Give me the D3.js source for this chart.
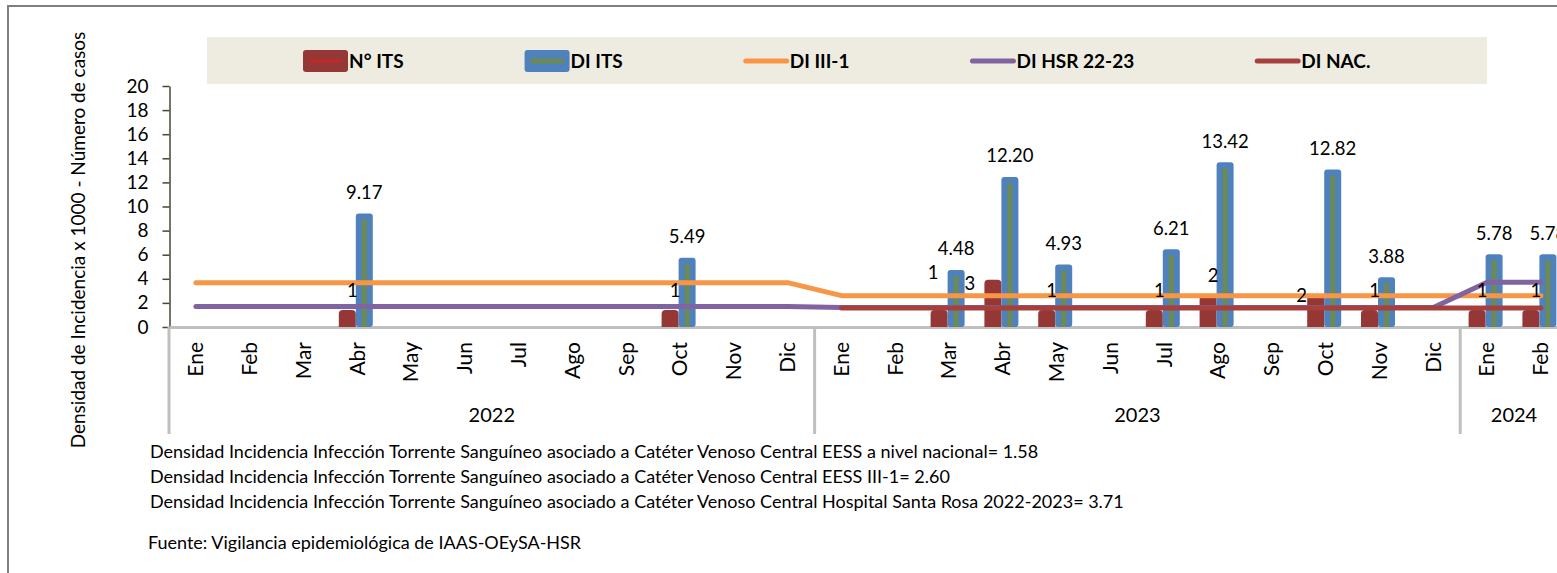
<!DOCTYPE html>
<html>
<head>
<meta charset="utf-8">
<script src="https://cdn.jsdelivr.net/npm/d3@7"></script>
<style>
  body { margin: 0; background: #fff; }
  svg { display: block; font-family: Lato, "Open Sans", sans-serif; }
</style>
</head>
<body>
<div id="container"></div>
<script>
/* DATA */
const months = ["Ene","Feb","Mar","Abr","May","Jun","Jul","Ago","Sep","Oct","Nov","Dic"];
const years = ["2022","2023","2024"];
const monthsPerYear = [12, 12, 2];

// N° ITS (numero de casos)
const casesITS = [0,0,0,1,0,0,0,0,0,1,0,0,
                  0,0,1,3,1,0,1,2,0,2,1,0,
                  1,1];
// DI ITS
const diITS = [0,0,0,9.17,0,0,0,0,0,5.49,0,0,
               0,0,4.48,12.20,4.93,0,6.21,13.42,0,12.82,3.88,0,
               5.78,5.78];
// DI III-1
const diIII1 = [3.68,3.68,3.68,3.68,3.68,3.68,3.68,3.68,3.68,3.68,3.68,3.68,
                2.60,2.60,2.60,2.60,2.60,2.60,2.60,2.60,2.60,2.60,2.60,2.60,
                2.60,2.60];
// DI HSR 22-23
const diHSR = [1.71,1.71,1.71,1.71,1.71,1.71,1.71,1.71,1.71,1.71,1.71,1.71,
               1.62,1.62,1.62,1.62,1.62,1.62,1.62,1.62,1.62,1.62,1.62,1.62,
               3.71,3.71];
// DI NAC.
const diNAC = [null,null,null,null,null,null,null,null,null,null,null,null,
               1.58,1.58,1.58,1.58,1.58,1.58,1.58,1.58,1.58,1.58,1.58,1.58,
               1.58,1.58];

const yTicks = [0,2,4,6,8,10,12,14,16,18,20];

const notes = [
  "Densidad Incidencia Infección Torrente Sanguíneo asociado a Catéter Venoso Central EESS a nivel nacional= 1.58",
  "Densidad Incidencia Infección Torrente Sanguíneo asociado a Catéter Venoso Central EESS III-1= 2.60",
  "Densidad Incidencia Infección Torrente Sanguíneo asociado a Catéter Venoso Central Hospital Santa Rosa 2022-2023= 3.71"
];
const source = "Fuente: Vigilancia epidemiológica de IAAS-OEySA-HSR";

/* CONSTANTS */
const width = 1557, height = 573;
const left = 169, top0 = 86, bottom = 327;

// category keys like "2022-Ene"
const keys = [];
years.forEach((yr, i) => months.slice(0, monthsPerYear[i]).forEach(m => keys.push(yr + "-" + m)));

const svg = d3.select("#container").append("svg")
  .attr("width", width)
  .attr("height", height);

// outer frame
svg.append("rect")
  .attr("x", 8).attr("y", 6)
  .attr("width", 1700).attr("height", 700)
  .attr("fill", "#fff")
  .attr("stroke", "#7f7f7f")
  .attr("stroke-width", 2);

/* SCALES */
const x = d3.scaleBand().domain(keys).range([left, left + 26 * 53.8]);
const y = d3.scaleLinear().domain([0, 20]).range([bottom, top0]);
const y2 = d3.scaleLinear().domain([0, 16]).range([bottom, top0]); // hidden secondary axis for cases
const barW = 17;
const cx = k => x(k) + x.bandwidth() / 2;

/* LEGEND */
svg.append("rect")
  .attr("x", 207).attr("y", 37)
  .attr("width", 1280).attr("height", 47)
  .attr("fill", "#eeece1");

const legendItems = [
  {name: "N° ITS", type: "barN"},
  {name: "DI ITS", type: "barDI"},
  {name: "DI III-1", type: "line", color: "#f79646"},
  {name: "DI HSR 22-23", type: "line", color: "#8064a2"},
  {name: "DI NAC.", type: "line", color: "#a5403d"}
];
let lx = 303;
const lg = svg.append("g");
legendItems.forEach(it => {
  const g = lg.append("g");
  if (it.type === "barN") {
    g.append("rect").attr("x", lx).attr("y", 50).attr("width", 45).attr("height", 22).attr("rx", 3).attr("fill", "#953735");
    g.append("line").attr("x1", lx + 7).attr("x2", lx + 38).attr("y1", 61).attr("y2", 61)
      .attr("stroke", "#c0282a").attr("stroke-width", 3);
  } else if (it.type === "barDI") {
    g.append("rect").attr("x", lx).attr("y", 50).attr("width", 45).attr("height", 22).attr("rx", 3).attr("fill", "#4f81bd");
    g.append("line").attr("x1", lx + 6).attr("x2", lx + 39).attr("y1", 61).attr("y2", 61)
      .attr("stroke", "#6b8a55").attr("stroke-width", 5);
  } else {
    g.append("line").attr("x1", lx + 2).attr("x2", lx + 43).attr("y1", 61).attr("y2", 61)
      .attr("stroke", it.color).attr("stroke-width", 5).attr("stroke-linecap", "round");
  }
  const t = g.append("text").attr("x", lx + 46).attr("y", 61).attr("dy", "0.35em")
    .attr("font-size", 19).attr("font-weight", "bold").text(it.name);
  lx += 46 + t.node().getComputedTextLength() + 121;
});

/* AXES */
const yAxis = svg.append("g")
  .attr("transform", `translate(${left + 0.5},0)`)
  .call(d3.axisLeft(y).tickValues(yTicks).tickSize(7).tickSizeOuter(0).tickPadding(14));
yAxis.select(".domain").attr("stroke", "#4a4530").attr("stroke-width", 1.5);
yAxis.selectAll(".tick line").attr("stroke", "#4a4530").attr("stroke-width", 1.5);
yAxis.selectAll(".tick text").attr("font-size", 19).attr("font-family", "Lato").attr("fill", "#000");

const xAxis = svg.append("g")
  .attr("transform", `translate(0,${bottom})`)
  .call(d3.axisBottom(x).tickSize(0).tickSizeOuter(0).tickFormat(k => k.split("-")[1]));
xAxis.select(".domain").attr("stroke", "#bfbfbf").attr("stroke-width", 3);
xAxis.selectAll(".tick text")
  .attr("transform", "rotate(-90)")
  .attr("text-anchor", "end")
  .attr("x", -15).attr("y", 0).attr("dy", "0.35em")
  .attr("font-size", 21).attr("font-family", "Lato").attr("fill", "#000");

// year dividers and labels
let start = 0;
years.forEach((yr, i) => {
  const k0 = keys[start];
  const k1 = keys[start + monthsPerYear[i] - 1];
  const x0 = x(k0), x1 = x(k1) + x.step();
  svg.append("line").attr("x1", x0).attr("x2", x0).attr("y1", bottom).attr("y2", 434)
    .attr("stroke", "#bfbfbf").attr("stroke-width", 3);
  svg.append("text").attr("x", (x0 + x1) / 2).attr("y", 415).attr("dy", "0.35em")
    .attr("text-anchor", "middle").attr("font-size", 20).text(yr);
  start += monthsPerYear[i];
});

/* BARS */
const bars = svg.append("g");
keys.forEach((k, i) => {
  const c = cx(k) - 1.5;
  if (casesITS[i] > 0) {
    const top = y2(casesITS[i]) - 2;
    bars.append("path")
      .attr("d", `M${c - barW},${bottom} V${top + 4} Q${c - barW},${top} ${c - barW + 4},${top} H${c - 4} Q${c},${top} ${c},${top + 4} V${bottom} Z`)
      .attr("fill", "#953735");
  }
  if (diITS[i] > 0) {
    const top = y(diITS[i]) - 3;
    bars.append("rect").attr("x", c).attr("y", top).attr("width", barW).attr("height", bottom - top)
      .attr("rx", 3).attr("fill", "#4f81bd");
    bars.append("rect").attr("x", c + barW / 2 - 2.5).attr("y", top + 6).attr("width", 5).attr("height", bottom - top - 6)
      .attr("fill", "#6b8a55");
  }
});

/* LINES */
const lineGen = d3.line()
  .defined(d => d != null)
  .x((d, i) => cx(keys[i]))
  .y(d => y(d));
[[diIII1, "#f79646"], [diHSR, "#8064a2"], [diNAC, "#a5403d"]].forEach(([vals, col]) => {
  svg.append("path").datum(vals)
    .attr("d", lineGen)
    .attr("fill", "none")
    .attr("stroke", col)
    .attr("stroke-width", 5)
    .attr("stroke-linecap", "round")
    .attr("stroke-linejoin", "round");
});

/* DATA LABELS */
const labelNudge = {14: [-11, -18], 15: [-28, 23], 21: [-19, 20]};
keys.forEach((k, i) => {
  const c = cx(k) - 1.5;
  if (diITS[i] > 0) {
    svg.append("text").attr("x", c + barW / 2).attr("y", y(diITS[i]) - 24).attr("dy", "0.35em")
      .attr("text-anchor", "middle").attr("font-size", 18.5).text(d3.format(".2f")(diITS[i]));
  }
  if (casesITS[i] > 0) {
    const n = labelNudge[i] || [0, 0];
    svg.append("text").attr("x", c - barW / 2 + 5 + n[0]).attr("y", y2(casesITS[i]) - 21 + n[1]).attr("dy", "0.35em")
      .attr("text-anchor", "middle").attr("font-size", 18.5).text(casesITS[i]);
  }
});

/* TITLES AND NOTES */
svg.append("text")
  .attr("transform", "translate(78,240) rotate(-90)")
  .attr("text-anchor", "middle").attr("dy", "0.35em")
  .attr("font-size", 19)
  .text("Densidad de Incidencia x 1000 - Número de casos");

svg.selectAll("text.note")
  .data(notes)
  .join("text")
  .attr("class", "note")
  .attr("x", 150)
  .attr("y", (d, i) => 452 + i * 25)
  .attr("dy", "0.35em")
  .attr("font-size", 18)
  .text(d => d);

svg.append("text")
  .attr("x", 148).attr("y", 543).attr("dy", "0.35em")
  .attr("font-size", 18)
  .text(source);
</script>
</body>
</html>
